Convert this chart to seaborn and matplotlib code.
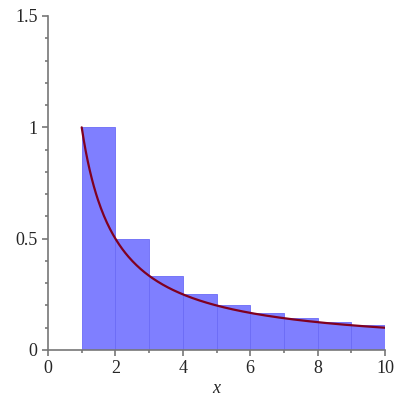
import numpy as np
import pandas as pd
import seaborn as sns
import matplotlib.pyplot as plt
from matplotlib.ticker import MultipleLocator, FuncFormatter

# left Riemann sum of f(x) = 1/x on [1, 10], width 1
bar_left = [1, 2, 3, 4, 5, 6, 7, 8, 9]
bar_height = [1.0, 0.5, 0.333, 0.25, 0.2, 0.167, 0.143, 0.125, 0.111]
bin_edges = [1, 2, 3, 4, 5, 6, 7, 8, 9, 10]

x_curve = np.linspace(1, 10, 300)
curve = pd.DataFrame({"x": x_curve, "y": 1 / x_curve})

sns.set_style("ticks")
plt.rcParams["font.family"] = ["Liberation Serif", "DejaVu Serif"]

fig = plt.figure(figsize=(4, 4), dpi=100)
ax = fig.add_axes([0.12, 0.125, 0.8425, 0.835])

sns.histplot(x=bar_left, weights=bar_height, bins=bin_edges, ax=ax,
             color="#7f7fff", edgecolor="#6b6bf6", linewidth=0.6, alpha=1.0)
sns.lineplot(data=curve, x="x", y="y", ax=ax, color="#800020", linewidth=1.6)

ax.set_xlim(0, 10)
ax.set_ylim(0, 1.5)
ax.xaxis.set_major_locator(MultipleLocator(2))
ax.xaxis.set_minor_locator(MultipleLocator(1))
ax.yaxis.set_major_locator(MultipleLocator(0.5))
ax.yaxis.set_minor_locator(MultipleLocator(0.1))
fmt = FuncFormatter(lambda v, p: f"{v:g}")
ax.xaxis.set_major_formatter(fmt)
ax.yaxis.set_major_formatter(fmt)

for side in ["top", "right"]:
    ax.spines[side].set_visible(False)
for side in ["left", "bottom"]:
    ax.spines[side].set_color("#777777")
    ax.spines[side].set_linewidth(1.2)
ax.tick_params(which="both", color="#777777", labelsize=13, width=1.2)
ax.tick_params(which="major", length=4)
ax.tick_params(which="minor", length=2.5)
ax.set_xlabel("x", fontstyle="italic", fontsize=13, labelpad=2)
ax.set_ylabel("")

fig.savefig("out.png", dpi=100)
